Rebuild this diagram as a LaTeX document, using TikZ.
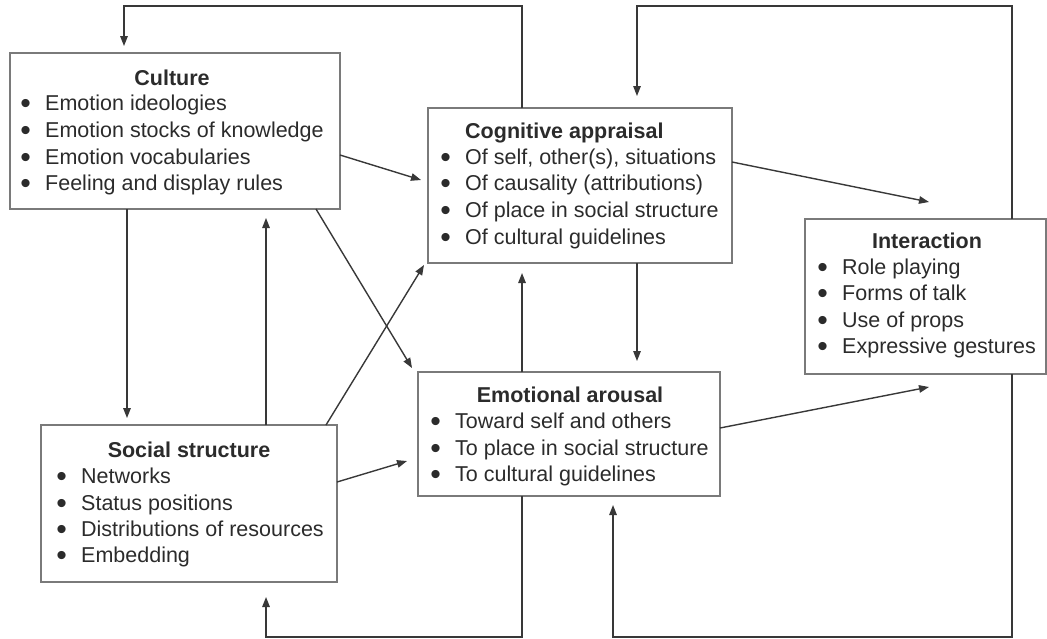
\documentclass[tikz,border=0pt]{standalone}
\usepackage{fontspec}
\usepackage{graphicx}
\setmainfont{Liberation Sans}
\usetikzlibrary{arrows.meta}
\definecolor{txt}{HTML}{2B2B2B}
\definecolor{boxc}{HTML}{7A7A7A}
\definecolor{linec}{HTML}{383838}
\newcommand{\bul}{\llap{\smash{\raisebox{-3.3pt}{\scalebox{1.4}{\textbullet}}}\hspace{14.25pt}}}
\tikzset{
  boxnode/.style={draw=boxc, line width=2pt, rectangle, inner sep=0pt, outer sep=0pt},
  ttl/.style={font=\fontsize{21.5}{26}\selectfont\bfseries, text=txt, inner sep=0pt, anchor=base},
  itm/.style={font=\fontsize{21.5}{26}\selectfont, text=txt, inner sep=0pt, anchor=base west},
  conn/.style={draw=linec, line width=1.4pt, line join=miter, -{Triangle[length=10pt,width=7.5pt]}},
}
\begin{document}
\begin{tikzpicture}[x=1pt,y=-1pt]
\useasboundingbox (0,0) rectangle (1047,638);

% boxes
\node[boxnode, minimum width=330pt, minimum height=156pt] (cul) at (175,131) {};
\node[boxnode, minimum width=304pt, minimum height=155pt] (cog) at (580,185.5) {};
\node[boxnode, minimum width=241pt, minimum height=155pt] (int) at (925.5,296.5) {};
\node[boxnode, minimum width=302pt, minimum height=124pt] (emo) at (569,434) {};
\node[boxnode, minimum width=296pt, minimum height=157pt] (soc) at (189,503.5) {};

% Culture
\node[ttl] (culT) at (172,85) {Culture};
\node[itm] (cul1) at (45,110) {\bul Emotion ideologies};
\node[itm] (cul2) at (45,137) {\bul Emotion stocks of knowledge};
\node[itm] (cul3) at (45,164) {\bul Emotion vocabularies};
\node[itm] (cul4) at (45,190) {\bul Feeling and display rules};

% Cognitive appraisal
\node[ttl, anchor=base west] (cogT) at (465,138) {Cognitive appraisal};
\node[itm] (cog1) at (465,164) {\bul Of self, other(s), situations};
\node[itm] (cog2) at (465,190) {\bul Of causality (attributions)};
\node[itm] (cog3) at (465,217) {\bul Of place in social structure};
\node[itm] (cog4) at (465,244) {\bul Of cultural guidelines};

% Interaction
\node[ttl] (intT) at (927,248) {Interaction};
\node[itm] (int1) at (842,274) {\bul Role playing};
\node[itm] (int2) at (842,300) {\bul Forms of talk};
\node[itm] (int3) at (842,327) {\bul Use of props};
\node[itm] (int4) at (842,353) {\bul Expressive gestures};

% Emotional arousal
\node[ttl] (emoT) at (570,402) {Emotional arousal};
\node[itm] (emo1) at (455,428) {\bul Toward self and others};
\node[itm] (emo2) at (455,455) {\bul To place in social structure};
\node[itm] (emo3) at (455,481) {\bul To cultural guidelines};

% Social structure
\node[ttl] (socT) at (189,457) {Social structure};
\node[itm] (soc1) at (81,483) {\bul Networks};
\node[itm] (soc2) at (81,510) {\bul Status positions};
\node[itm] (soc3) at (81,536) {\bul Distributions of resources};
\node[itm] (soc4) at (81,562) {\bul Embedding};

% connector end points
\coordinate (tlA) at (522,6);
\coordinate (tlB) at (124,6);
\coordinate (tlC) at (124,46);
\coordinate (trA) at (1012,6);
\coordinate (trB) at (637,6);
\coordinate (trC) at (637,96);
\coordinate (e3) at (421,180);
\coordinate (e4) at (929,202);
\coordinate (e5) at (127,418);
\coordinate (e6) at (266,218);
\coordinate (e7) at (412,368);
\coordinate (e8) at (424,265);
\coordinate (e9) at (407,461);
\coordinate (e10) at (637,361);
\coordinate (e11) at (522,273);
\coordinate (e12) at (929,387);
\coordinate (blA) at (522,637);
\coordinate (blB) at (266,637);
\coordinate (blC) at (266,597);
\coordinate (brA) at (1012,637);
\coordinate (brB) at (613,637);
\coordinate (brC) at (613,505);

% connectors
\draw[conn] (cog.north -| tlA) -- (tlA) -- (tlB) -- (tlC);
\draw[conn] (int.north -| trA) -- (trA) -- (trB) -- (trC);
\draw[conn] (cul.east |- 0,155) -- (e3);
\draw[conn] (cog.east |- 0,162) -- (e4);
\draw[conn] (cul.south -| e5) -- (e5);
\draw[conn] (soc.north -| e6) -- (e6);
\draw[conn] (cul.south -| 316,0) -- (e7);
\draw[conn] (soc.north -| 326,0) -- (e8);
\draw[conn] (soc.east |- 0,482) -- (e9);
\draw[conn] (cog.south -| e10) -- (e10);
\draw[conn] (emo.north -| e11) -- (e11);
\draw[conn] (emo.east |- 0,428) -- (e12);
\draw[conn] (emo.south -| blA) -- (blA) -- (blB) -- (blC);
\draw[conn] (int.south -| brA) -- (brA) -- (brB) -- (brC);
\end{tikzpicture}
\end{document}
